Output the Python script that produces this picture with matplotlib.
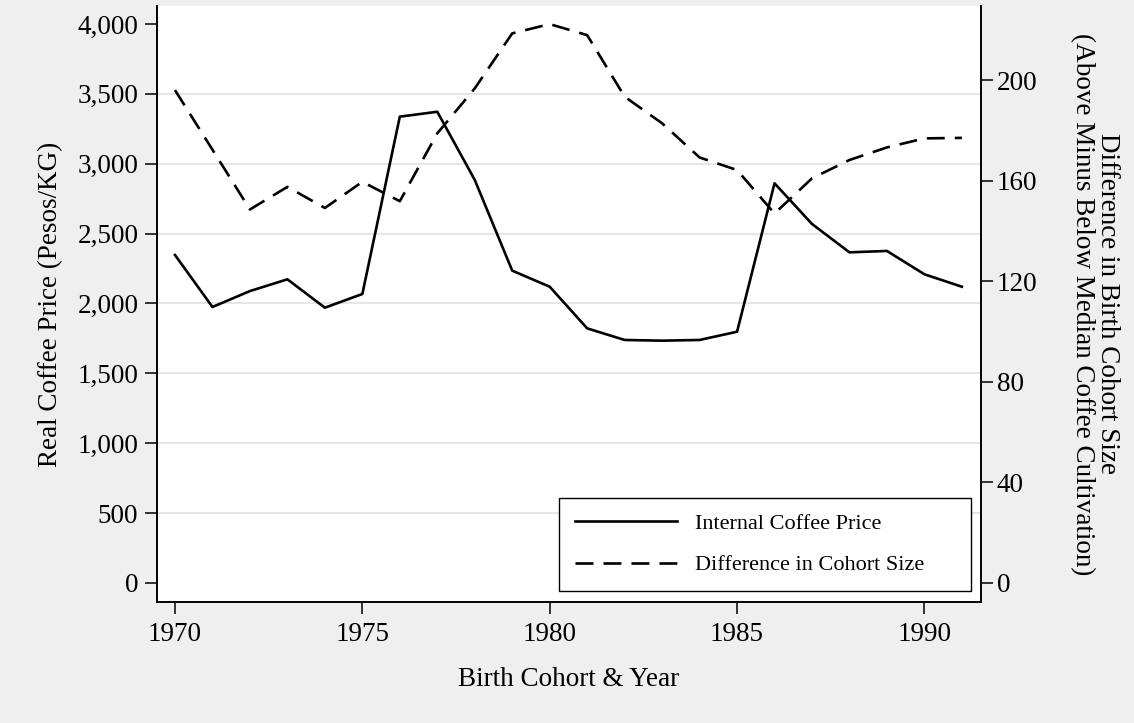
import matplotlib
matplotlib.use("Agg")
import matplotlib.pyplot as plt
from matplotlib.lines import Line2D

# Datos
anios = list(range(1970, 1992))
precio = [2347, 1975, 2089, 2173, 1970, 2068, 3337, 3372, 2884, 2235, 2120,
          1822, 1739, 1734, 1739, 1798, 2860, 2569, 2366, 2376, 2209, 2120]
dif_cohorte = [196.0, 172.3, 148.5, 157.5, 149.1, 159.5, 151.8, 178.8, 196.7,
               218.6, 222.3, 217.9, 193.4, 182.8, 169.2, 164.2, 146.9, 160.9,
               168.2, 173.2, 176.8, 177.0]

ticks_x = [1970, 1975, 1980, 1985, 1990]
ticks_izq = [0, 500, 1000, 1500, 2000, 2500, 3000, 3500, 4000]
etiq_izq = ["0", "500", "1,000", "1,500", "2,000", "2,500", "3,000", "3,500", "4,000"]
ticks_der = [0, 40, 80, 120, 160, 200]
leyenda = ["Internal Coffee Price", "Difference in Cohort Size"]

FONDO = "#efefef"
GRID = "#e6e6e6"
LW = 1.9
DASH = (0, (6.8, 3.8))
plt.rcParams["font.family"] = ["Liberation Serif", "DejaVu Serif"]

fig = plt.figure(figsize=(11.34, 7.23), dpi=100, facecolor=FONDO)
ax = fig.add_axes([0.13845, 0.16736, 0.72663, 0.82434])
ax.set_facecolor("white")
ax2 = ax.twinx()

ax.plot(anios, precio, color="black", lw=LW, zorder=3)
ax2.plot(anios, dif_cohorte, color="black", lw=LW, ls=DASH, zorder=3)

ax.set_xlim(1969.52, 1991.51)
ax.set_ylim(-136, 4128.8)
ax2.set_ylim(-7.76, 229.5)

ax.set_xticks(ticks_x)
ax.set_yticks(ticks_izq)
ax.set_yticklabels(etiq_izq)
ax2.set_yticks(ticks_der)

for y in ticks_izq[1:-1]:
    ax.axhline(y, color=GRID, lw=1.5, zorder=1)

for a in (ax, ax2):
    a.spines["top"].set_visible(False)
    for s in ("left", "right", "bottom"):
        a.spines[s].set_linewidth(1.2)
ax.tick_params(axis="both", labelsize=19.5, length=8.5, width=1.1, pad=5)
ax.tick_params(axis="x", pad=6)
ax2.tick_params(axis="y", labelsize=19.5, length=8.5, width=1.1, pad=3)

ax.set_xlabel("Birth Cohort & Year", fontsize=19.5, labelpad=14)
ax.set_ylabel("Real Coffee Price (Pesos/KG)", fontsize=19.5, labelpad=10)
ax2.set_ylabel("Difference in Birth Cohort Size\n(Above Minus Below Median Coffee Cultivation)",
               fontsize=19.5, rotation=270, va="bottom", multialignment="center",
               labelpad=23, linespacing=1.0)

handles = [Line2D([], [], color="black", lw=LW),
           Line2D([], [], color="black", lw=LW, ls=DASH)]
leg = ax2.legend(handles, leyenda, loc="lower left",
                 bbox_to_anchor=(559.3 / 1134, 1 - 591 / 723, 411.4 / 1134, 0.1),
                 bbox_transform=fig.transFigure, mode="expand", borderaxespad=0,
                 fontsize=16, handlelength=4.6, handletextpad=0.8,
                 labelspacing=0.95, borderpad=0.7, fancybox=False, framealpha=1,
                 edgecolor="black")
leg.get_frame().set_linewidth(1.0)

fig.savefig("out.png", dpi=100, facecolor=FONDO)
